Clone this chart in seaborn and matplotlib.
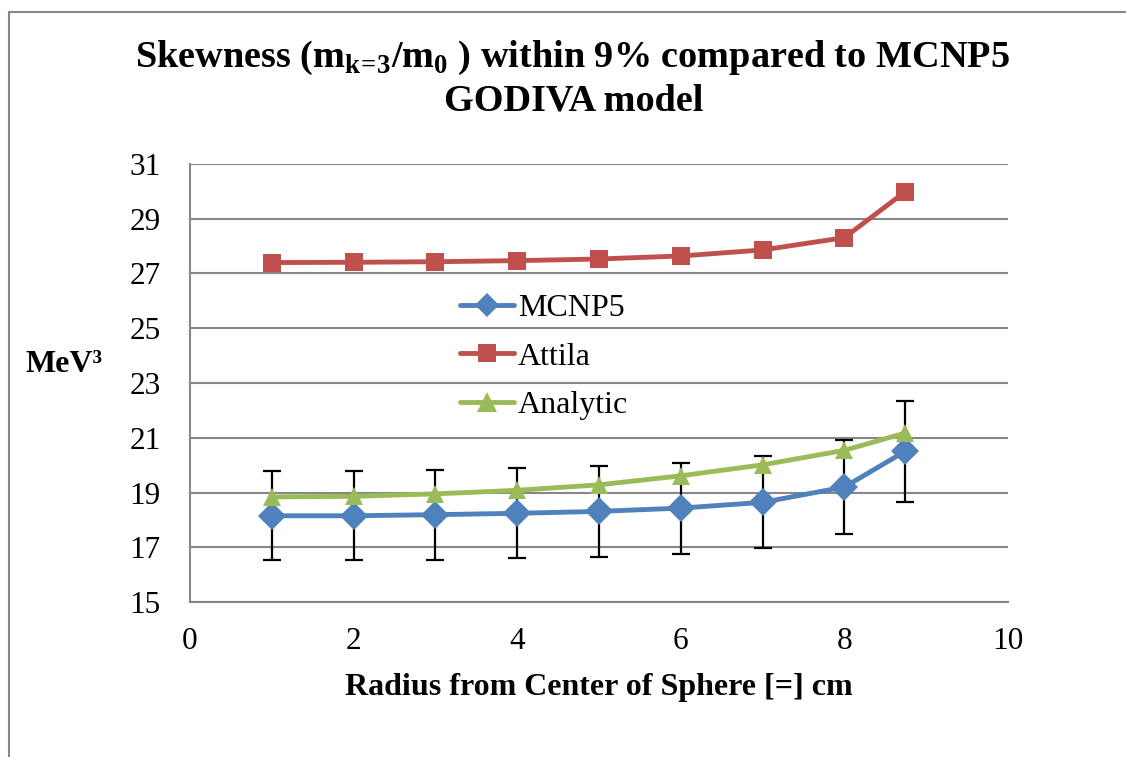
import numpy as np
import pandas as pd
import matplotlib
matplotlib.use("Agg")
import matplotlib.pyplot as plt
from matplotlib.patches import Rectangle
import seaborn as sns

# ---- data ----
radius = [1, 2, 3, 4, 5, 6, 7, 8, 8.74]
mcnp5 = [18.15, 18.15, 18.19, 18.24, 18.31, 18.43, 18.64, 19.20, 20.50]
attila = [27.40, 27.41, 27.43, 27.47, 27.53, 27.64, 27.86, 28.31, 29.98]
analytic = [18.84, 18.86, 18.95, 19.08, 19.28, 19.61, 20.01, 20.54, 21.17]
mcnp5_err = [1.63, 1.63, 1.64, 1.64, 1.65, 1.66, 1.68, 1.73, 1.84]
series_names = ["MCNP5", "Attila", "Analytic"]
yticks = [15, 17, 19, 21, 23, 25, 27, 29, 31]
xticks = [0, 2, 4, 6, 8, 10]

colors = {"MCNP5": "#4F81BD", "Attila": "#C0504D", "Analytic": "#9BBB59"}
markers = {"MCNP5": "D", "Attila": "s", "Analytic": "^"}
msizes = {"MCNP5": 12.5, "Attila": 13.5, "Analytic": 14.5}

df = pd.DataFrame({
    "Radius": radius * 3,
    "Value": mcnp5 + attila + analytic,
    "Series": [s for s in series_names for _ in radius],
})

sns.set_theme(style="white")
plt.rcParams["font.family"] = ["Liberation Serif", "DejaVu Serif"]
plt.rcParams["text.color"] = "black"
plt.rcParams["axes.labelcolor"] = "black"
plt.rcParams["xtick.color"] = "black"
plt.rcParams["ytick.color"] = "black"
plt.rcParams["mathtext.fontset"] = "custom"
plt.rcParams["mathtext.rm"] = "Liberation Serif"
plt.rcParams["mathtext.bf"] = "Liberation Serif:bold"

fig = plt.figure(figsize=(11.26, 7.57), dpi=100)
ax = fig.add_axes([190 / 1126, 1 - 602 / 757, (1008 - 190) / 1126, (602 - 164) / 757])

# error bars (MCNP5), drawn beneath lines
ax.errorbar(radius, mcnp5, yerr=mcnp5_err, fmt="none", ecolor="black",
            elinewidth=1.6, capsize=5.5, capthick=1.6, zorder=2)

sns.lineplot(data=df, x="Radius", y="Value", hue="Series", style="Series",
             hue_order=series_names, style_order=series_names,
             palette=colors, markers=markers, dashes=False,
             linewidth=3.5, markersize=13, markeredgewidth=0,
             ax=ax, zorder=3, legend=True)

series_lines = [l for l in ax.get_lines() if len(l.get_xdata()) == len(radius)]
for line, name in zip(series_lines, series_names):
    line.set_markersize(msizes[name])

ax.set_xlim(0, 10)
ax.set_ylim(15, 31)
ax.set_xticks(xticks)
ax.set_yticks(yticks)
ax.tick_params(axis="both", length=0, labelsize=22.5, colors="black")
ax.tick_params(axis="y", pad=21)
ax.tick_params(axis="x", pad=18)

ax.grid(axis="y", color="#878787", linewidth=1.5)
ax.grid(axis="x", visible=False)
for side in ["top", "right"]:
    ax.spines[side].set_visible(False)
for side in ["left", "bottom"]:
    ax.spines[side].set_color("#878787")
    ax.spines[side].set_linewidth(1.5)

ax.set_xlabel("Radius from Center of Sphere [=] cm", fontsize=23,
              fontweight="bold", labelpad=12)
ax.set_ylabel("")

fig.text(26 / 1126, 1 - 365 / 757, "MeV³", fontsize=23, fontweight="bold",
         ha="left", va="center")

fig.text(572 / 1126, 1 - 58 / 757,
         r"Skewness (m$_{\mathbf{k\!=\!3}}$/m$_{\mathbf{0}}$ ) within 9% compared to MCNP5",
         fontsize=27.5, fontweight="bold", ha="center", va="center")
fig.text(574 / 1126, 1 - 101 / 757, "GODIVA model",
         fontsize=27.5, fontweight="bold", ha="center", va="center")

leg = ax.legend(loc="upper left", bbox_to_anchor=((447 - 190) / 818, (602 - 281) / 438),
                frameon=False, fontsize=23, handlelength=1.7, handletextpad=0.12,
                labelspacing=0.6, borderaxespad=0)
for h, name in zip(leg.legend_handles, series_names):
    h.set_linewidth(3.5)
    h.set_markersize(msizes[name])

fig.add_artist(Rectangle((8.5 / 1126, -0.05), 1.2, 1 - 11.5 / 757 + 0.05,
                         transform=fig.transFigure, fill=False,
                         edgecolor="#878787", linewidth=1.5))

fig.savefig("out.png", dpi=100)
